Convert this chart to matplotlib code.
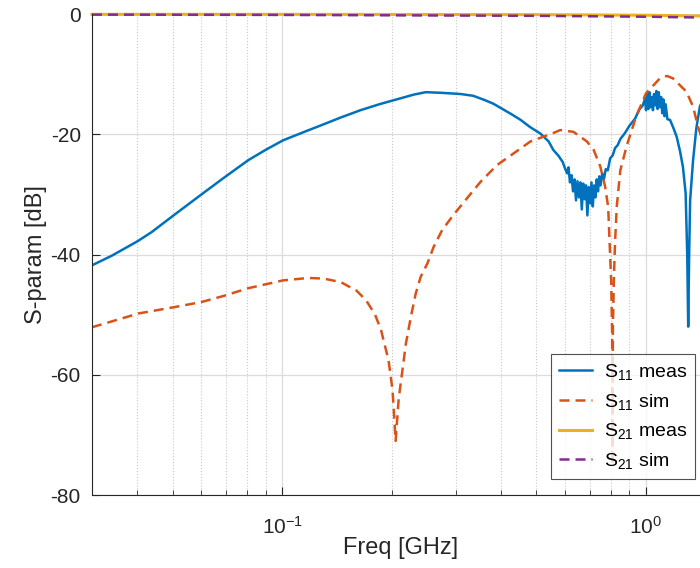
import matplotlib
matplotlib.use("Agg")
import matplotlib.pyplot as plt
from matplotlib.ticker import LogLocator, NullFormatter

plt.rcParams['font.family'] = ['Liberation Sans', 'DejaVu Sans']
plt.rcParams['mathtext.fontset'] = 'custom'
plt.rcParams['mathtext.rm'] = 'Liberation Sans'
plt.rcParams['mathtext.default'] = 'regular'
plt.rcParams['axes.unicode_minus'] = False

f_s11_meas = [0.030, 0.034, 0.040, 0.0437, 0.050, 0.060, 0.0689, 0.0807, 0.090,
              0.1006, 0.115, 0.128, 0.145, 0.164, 0.185, 0.212, 0.230, 0.248,
              0.273, 0.309, 0.335, 0.360, 0.380, 0.398, 0.425, 0.452, 0.480,
              0.513, 0.540, 0.556, 0.575, 0.590, 0.600, 0.607, 0.612, 0.618,
              0.624, 0.630, 0.636, 0.642, 0.648, 0.654, 0.660, 0.666, 0.672,
              0.678, 0.684, 0.690, 0.696, 0.702, 0.708, 0.714, 0.720, 0.726,
              0.732, 0.738, 0.744, 0.750, 0.758, 0.766, 0.775, 0.785, 0.797,
              0.810, 0.822, 0.836, 0.850, 0.875, 0.900, 0.933, 0.960, 0.980,
              0.994, 1.000, 1.008, 1.015, 1.022, 1.030, 1.038, 1.045, 1.052,
              1.060, 1.068, 1.076, 1.084, 1.092, 1.100, 1.108, 1.116, 1.124,
              1.132, 1.145, 1.164, 1.190, 1.214, 1.240, 1.263, 1.285, 1.298,
              1.306, 1.314, 1.322, 1.347, 1.375, 1.406, 1.450, 1.500]
s11_meas = [-41.8, -40.2, -37.8, -36.3, -33.6, -30.0, -27.3, -24.3, -22.6,
            -21.0, -19.6, -18.5, -17.2, -16.0, -15.0, -14.0, -13.4, -13.0,
            -13.1, -13.3, -13.6, -14.3, -14.9, -15.6, -16.6, -17.6, -18.8,
            -19.9, -21.2, -22.6, -23.6, -24.6, -25.8, -26.5, -25.5, -28.0,
            -26.8, -29.5, -27.5, -31.0, -27.8, -30.5, -28.0, -32.5, -28.2,
            -30.8, -28.5, -33.5, -28.8, -31.5, -28.0, -32.0, -28.5, -30.5,
            -27.5, -29.5, -27.0, -28.5, -26.5, -27.5, -25.8, -26.0, -24.0,
            -23.5, -22.3, -21.8, -20.8, -19.8, -18.6, -17.4, -15.8, -15.2,
            -14.0, -16.0, -13.2, -15.8, -13.0, -15.5, -13.8, -16.0, -13.3,
            -15.2, -12.8, -15.8, -13.0, -15.5, -13.8, -16.5, -14.2, -17.0,
            -15.0, -17.5, -17.6, -19.0, -20.4, -22.8, -25.4, -29.8, -40.0,
            -52.0, -40.0, -31.0, -24.3, -19.0, -15.4, -13.5, -13.2]

# S11 simulated
f_s11_sim = [0.030, 0.0403, 0.050, 0.060, 0.0689, 0.0807, 0.1006, 0.118, 0.130,
             0.145, 0.160, 0.170, 0.180, 0.187, 0.196, 0.201, 0.205, 0.209,
             0.2143, 0.2188, 0.2257, 0.2328, 0.2403, 0.2506, 0.2609, 0.2754,
             0.2957, 0.3225, 0.351, 0.3899, 0.4322, 0.4809, 0.5559, 0.581,
             0.632, 0.688, 0.718, 0.749, 0.772, 0.787, 0.802, 0.807, 0.809,
             0.811, 0.816, 0.822, 0.831, 0.850, 0.884, 0.9387, 0.9995, 1.092,
             1.142, 1.186, 1.291, 1.347, 1.390, 1.450, 1.500]
s11_sim = [-52.1, -49.8, -48.8, -47.9, -46.9, -45.6, -44.3, -43.9, -44.0,
           -44.6, -46.0, -47.6, -50.0, -52.6, -57.6, -62.5, -71.0, -64.0,
           -59.0, -54.8, -50.4, -46.5, -43.7, -41.5, -38.7, -35.9,
           -33.4, -30.6, -27.9, -25.1, -23.2, -21.2, -19.8, -19.3,
           -19.6, -21.2, -22.6, -25.4, -28.7, -32.1, -44.3, -53.0, -75.0,
           -52.0, -44.0, -38.0, -32.0, -26.0, -22.0, -17.1, -13.2, -10.7,
           -10.3, -10.7, -12.9, -15.4, -18.8, -22.0, -25.0]

# S21 measured / simulated
f_s21 = [0.030, 0.100, 0.500, 1.000, 1.500]
s21_meas = [-0.05, -0.05, -0.10, -0.20, -0.35]
s21_sim = [-0.10, -0.15, -0.30, -0.45, -0.60]

c_blue = '#0072BD'
c_orange = '#D95319'
c_yellow = '#EDB120'
c_purple = '#7E2F8E'
dash = (0, (4, 2.4))

fig = plt.figure(figsize=(7.0, 5.68), dpi=100)
ax = fig.add_axes([0.1314, 0.1285, 0.883, 0.8468])

ax.semilogx(f_s11_meas, s11_meas, color=c_blue, lw=1.8, label='S$_{11}$ meas')
ax.semilogx(f_s11_sim, s11_sim, color=c_orange, lw=1.8, ls=dash, label='S$_{11}$ sim')
ax.semilogx(f_s21, s21_meas, color=c_yellow, lw=2.2, label='S$_{21}$ meas', clip_on=False)
ax.semilogx(f_s21, s21_sim, color=c_purple, lw=1.8, ls=dash, label='S$_{21}$ sim', clip_on=False)

ax.set_xlim(0.03, 1.5)
ax.set_ylim(-80, 0)
ax.set_yticks([-80, -60, -40, -20, 0])
ax.xaxis.set_major_locator(LogLocator(base=10))
ax.xaxis.set_minor_locator(LogLocator(base=10, subs=range(2, 10)))
ax.xaxis.set_minor_formatter(NullFormatter())

ax.grid(True, which='major', color='#dcdcdc', lw=0.9, ls='-')
ax.grid(True, which='minor', axis='x', color='#c8c8c8', lw=0.8, ls=':')
ax.set_axisbelow(True)

for side in ['top', 'right']:
    ax.spines[side].set_visible(False)
for side in ['left', 'bottom']:
    ax.spines[side].set_color('#262626')
    ax.spines[side].set_linewidth(0.8)

ax.tick_params(which='both', direction='in', colors='#262626', labelsize=15)
ax.tick_params(which='major', length=6, width=0.8)
ax.tick_params(axis='y', which='major', pad=8)
ax.tick_params(axis='x', which='major', pad=15)
ax.tick_params(which='minor', length=3.5, width=0.6)

ax.set_xlabel('Freq [GHz]', fontsize=17, color='#262626')
ax.set_ylabel('S-param [dB]', fontsize=17, color='#262626')
ax.xaxis.set_label_coords(0.5, -0.088)
ax.yaxis.set_label_coords(-0.072, 0.5)

leg = ax.legend(loc='lower right', bbox_to_anchor=(0.9757, 0.0333), borderaxespad=0,
                fontsize=14, frameon=True, fancybox=False, handlelength=1.7,
                labelspacing=0.5, borderpad=0.4, handletextpad=0.6)
leg.get_frame().set_edgecolor('#262626')
leg.get_frame().set_linewidth(0.8)

fig.savefig('out.png', dpi=100)
